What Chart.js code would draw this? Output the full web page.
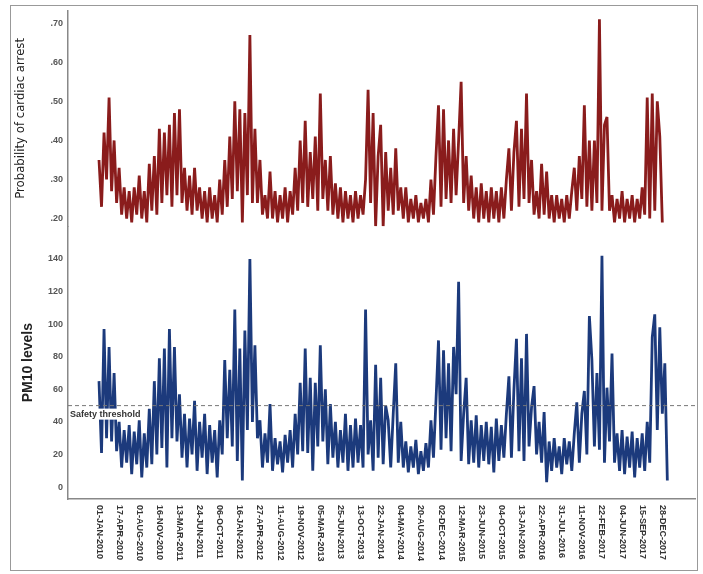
<!DOCTYPE html>
<html>
<head>
<meta charset="utf-8">
<script src="https://cdn.jsdelivr.net/npm/chart.js@4.4.1/dist/chart.umd.min.js"></script>
<style>
  html, body { margin: 0; padding: 0; background: #fff; }
  canvas { display: block; }
</style>
</head>
<body>
<canvas id="chart" width="703" height="574"></canvas>
<script>
// date labels under the x axis, one every `labelEvery` points
const dateLabels = [
    "01-JAN-2010", "17-APR-2010", "01-AUG-2010", "16-NOV-2010", "13-MAR-2011",
    "24-JUN-2011", "06-OCT-2011", "16-JAN-2012", "27-APR-2012", "11-AUG-2012",
    "19-NOV-2012", "05-MAR-2013", "25-JUN-2013", "13-OCT-2013", "22-JAN-2014",
    "04-MAY-2014", "20-AUG-2014", "02-DEC-2014", "12-MAR-2015", "23-JUN-2015",
    "04-OCT-2015", "13-JAN-2016", "22-APR-2016", "31-JUL-2016", "11-NOV-2016",
    "22-FEB-2017", "04-JUN-2017", "15-SEP-2017", "28-DEC-2017"
];
const labelEvery = 8;

const cardiacTicks = [0.2, 0.3, 0.4, 0.5, 0.6, 0.7];
const pm10Ticks = [0, 20, 40, 60, 80, 100, 120, 140];
const safetyThreshold = 50;
const thresholdLabel = "Safety threshold";

// probability of cardiac arrest
const cardiac = [
    .35,.23,.42,.30,.51,.27,.40,.24,  .33,.21,.28,.20,.27,.19,.28,.21,
    .31,.20,.27,.19,.34,.22,.36,.21,  .43,.24,.42,.26,.44,.23,.47,.26,
    .48,.24,.33,.22,.31,.21,.33,.22,  .28,.20,.27,.19,.28,.20,.26,.19,
    .30,.21,.35,.23,.41,.25,.50,.27,  .48,.19,.47,.26,.67,.24,.43,.24,
    .35,.21,.26,.20,.32,.20,.27,.19,  .26,.20,.28,.19,.27,.21,.33,.22,
    .40,.24,.45,.23,.37,.25,.41,.22,  .52,.25,.35,.22,.36,.21,.29,.20,
    .28,.19,.27,.20,.26,.19,.27,.20,  .26,.21,.30,.53,.24,.47,.18,.36,
    .44,.18,.37,.22,.33,.21,.38,.22,  .28,.20,.28,.19,.25,.20,.26,.19,
    .24,.20,.25,.19,.30,.21,.36,.49,  .23,.48,.25,.40,.24,.43,.26,.40,
    .55,.24,.36,.22,.31,.20,.28,.19,  .29,.20,.27,.19,.28,.20,.27,.19,
    .28,.20,.30,.38,.22,.37,.45,.23,  .43,.25,.52,.24,.35,.21,.27,.20,
    .34,.21,.32,.20,.26,.19,.26,.20,  .25,.19,.26,.20,.27,.33,.22,.36,
    .25,.49,.23,.40,.22,.40,.24,.71,  .22,.44,.46,.22,.26,.19,.25,.20,
    .27,.19,.25,.20,.26,.19,.25,.20,  .28,.21,.51,.20,.52,.22,.50,.41,
    .19
];

// PM10 levels
const pm10 = [
    65,21,97,30,86,28,70,22,  40,12,35,15,38,8,34,14,
    41,6,33,12,48,14,65,20,   79,24,85,12,97,30,86,28,
    57,18,45,12,42,20,53,10,  40,18,45,8,38,15,35,6,
    41,20,78,30,72,25,109,16, 85,4,96,35,140,40,87,30,
    41,12,33,15,51,10,30,14,  28,9,32,15,35,12,45,20,
    64,22,85,21,67,10,64,25,  87,28,60,14,51,18,40,12,
    35,15,45,10,38,12,42,15,  38,12,109,20,41,10,75,18,
    67,14,50,41,12,45,76,15,  40,12,28,9,25,12,29,8,
    22,10,27,12,41,18,53,90,  23,84,30,76,22,86,57,126,
    16,45,67,14,41,15,44,12,  38,16,40,14,37,9,42,16,
    38,18,45,68,18,60,91,22,  79,16,94,25,49,62,20,40,
    15,46,3,28,10,30,12,25,   8,30,14,28,10,33,52,15,
    45,59,20,105,78,25,70,23, 142,15,61,28,82,15,33,10,
    35,8,31,12,34,6,30,12,    33,10,40,15,92,106,35,98,
    45,76,4
];

const FONT = "'Liberation Sans', Arial, sans-serif";

// dashed threshold, its label, rotated date labels and the frame
const extras = {
    id: "extras",
    beforeDraw(chart) {
        const ctx = chart.ctx;
        ctx.save();
        ctx.fillStyle = "#fff";
        ctx.fillRect(0, 0, chart.width, chart.height);
        ctx.restore();
    },
    afterDatasetsDraw(chart) {
        const { ctx, chartArea, scales } = chart;
        const y = scales.yBot.getPixelForValue(safetyThreshold);
        ctx.save();
        ctx.strokeStyle = "#777";
        ctx.lineWidth = 1;
        ctx.setLineDash([4, 3]);
        ctx.beginPath();
        ctx.moveTo(chartArea.left, y);
        ctx.lineTo(chartArea.right, y);
        ctx.stroke();
        ctx.setLineDash([]);

        ctx.font = "bold 9px " + FONT;
        const w = ctx.measureText(thresholdLabel).width;
        ctx.fillStyle = "#fff";
        ctx.fillRect(chartArea.left + 1, y + 3, w + 3, 11);
        ctx.fillStyle = "#333";
        ctx.textBaseline = "middle";
        ctx.textAlign = "left";
        ctx.fillText(thresholdLabel, chartArea.left + 2, y + 9);

        // date labels, reading top to bottom
        const x = scales.x;
        dateLabels.forEach((label, i) => {
            const px = x.getPixelForValue(i * labelEvery);
            ctx.save();
            ctx.translate(px, x.top + 6);
            ctx.rotate(Math.PI / 2);
            ctx.fillStyle = "#333";
            ctx.font = "bold 9px " + FONT;
            ctx.textAlign = "left";
            ctx.textBaseline = "middle";
            ctx.fillText(label, 0, 0);
            ctx.restore();
        });

        ctx.strokeStyle = "#999";
        ctx.lineWidth = 1;
        ctx.strokeRect(10.5, 5.5, 687, 565);
        ctx.restore();
    }
};

const tickFont = { family: FONT, size: 9, weight: "bold" };

new Chart(document.getElementById("chart"), {
    type: "line",
    data: {
        datasets: [
            {
                label: "PM10 levels",
                data: pm10.map((v, i) => ({ x: i, y: v })),
                yAxisID: "yBot",
                borderColor: "#1c3a7c",
                borderWidth: 2.8,
                borderJoinStyle: "bevel",
                pointRadius: 0,
                tension: 0
            },
            {
                label: "Probability of cardiac arrest",
                data: cardiac.map((v, i) => ({ x: i, y: v })),
                yAxisID: "yTop",
                borderColor: "#8a1c1c",
                borderWidth: 2.8,
                borderJoinStyle: "bevel",
                pointRadius: 0,
                tension: 0
            }
        ]
    },
    options: {
        responsive: false,
        animation: false,
        devicePixelRatio: 1,
        layout: { padding: { left: 11, top: 8, right: 8, bottom: 0 } },
        plugins: {
            legend: { display: false },
            tooltip: { enabled: false }
        },
        scales: {
            x: {
                type: "linear",
                min: -12.33,
                max: 237,
                grid: { display: false, drawTicks: false },
                border: { color: "#888", width: 1.5 },
                ticks: { display: false },
                afterBuildTicks: (s) => { s.ticks = dateLabels.map((_, i) => ({ value: i * labelEvery })); },
                afterFit: (s) => { s.height = 75; }
            },
            yBot: {
                type: "linear",
                position: "left",
                stack: "panels",
                stackWeight: 274,
                min: -7.3,
                max: 160,
                grid: { display: false, drawTicks: false },
                border: { color: "#888", width: 1.5 },
                ticks: { font: tickFont, color: "#555", padding: 5 },
                afterBuildTicks: (s) => { s.ticks = pm10Ticks.map(v => ({ value: v })); },
                afterFit: (s) => { s.width = 57; },
                title: {
                    display: true,
                    text: "PM10 levels",
                    color: "#222",
                    font: { family: FONT, size: 14, weight: "bold" },
                    padding: { top: 9, bottom: 0 }
                }
            },
            yTop: {
                type: "linear",
                position: "left",
                stack: "panels",
                stackWeight: 217,
                min: 0.18,
                max: 0.733,
                grid: { display: false, drawTicks: false },
                border: { color: "#888", width: 1.5 },
                ticks: {
                    font: tickFont,
                    color: "#555",
                    padding: 5,
                    callback: (v) => v.toFixed(2).replace(/^0/, "")
                },
                afterBuildTicks: (s) => { s.ticks = cardiacTicks.map(v => ({ value: v })); },
                afterFit: (s) => { s.width = 57; },
                title: {
                    display: true,
                    text: "Probability of cardiac arrest",
                    color: "#222",
                    font: { family: "'Liberation Sans Narrow', 'DejaVu Sans Condensed', " + FONT, size: 13 },
                    padding: { top: 2, bottom: 0 }
                }
            }
        }
    },
    plugins: [extras]
});
</script>
</body>
</html>
